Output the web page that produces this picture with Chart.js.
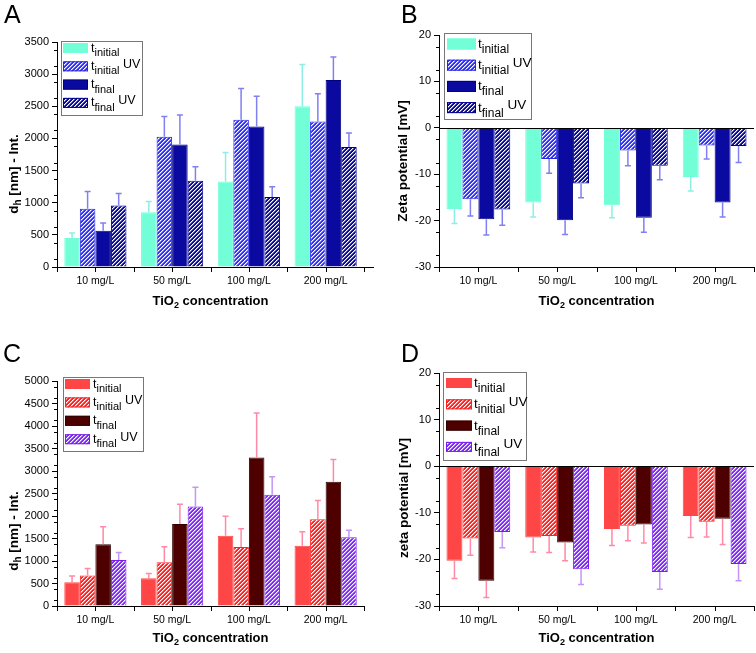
<!DOCTYPE html>
<html>
<head>
<meta charset="utf-8">
<script src="https://cdn.jsdelivr.net/npm/chart.js@4.4.0/dist/chart.umd.min.js"></script>
<style>
body { margin: 0; background: #fff; }
#wrap { position: relative; width: 756px; height: 653px; overflow: hidden; }
canvas { position: absolute; }
</style>
</head>
<body>
<div id="wrap">
  <canvas id="chartA" width="378" height="320" style="left:0;top:0"></canvas>
  <canvas id="chartB" width="378" height="320" style="left:378px;top:0"></canvas>
  <canvas id="chartC" width="378" height="333" style="left:0;top:320px"></canvas>
  <canvas id="chartD" width="378" height="333" style="left:378px;top:320px"></canvas>
</div>
<script>
// categories and legend text
const concentrations = ['10 mg/L', '50 mg/L', '100 mg/L', '200 mg/L'];
const legendSubs = ['initial', 'initial', 'final', 'final'];
const legendUV = ['', ' UV', '', ' UV'];

// y axis ranges [min, max, step]
const rangeA = [0, 3500, 500];
const rangeB = [-30, 20, 10];
const rangeC = [0, 5000, 500];
const rangeD = [-30, 20, 10];

// A: d_h [nm]
const dhA_initial = [450, 850, 1330, 2500];
const dhA_initialErr = [80, 170, 450, 650];
const dhA_initialUV = [905, 2025, 2290, 2265];
const dhA_initialUVErr = [270, 315, 485, 430];
const dhA_final = [565, 1905, 2185, 2910];
const dhA_finalErr = [120, 460, 470, 355];
const dhA_finalUV = [955, 1340, 1090, 1865];
const dhA_finalUVErr = [190, 220, 160, 220];

// B: zeta potential [mV]
const zetaB_initial = [-17.5, -16.1, -16.7, -10.6];
const zetaB_initialErr = [3.1, 3.1, 2.7, 3.0];
const zetaB_initialUV = [-15.4, -6.7, -4.9, -3.8];
const zetaB_initialUVErr = [3.6, 3.1, 3.3, 2.9];
const zetaB_final = [-19.7, -19.9, -19.4, -16.1];
const zetaB_finalErr = [3.4, 3.1, 3.1, 3.1];
const zetaB_finalUV = [-17.6, -12.0, -8.2, -3.9];
const zetaB_finalUVErr = [3.4, 3.1, 3.0, 3.6];

// C: d_h [nm]
const dhC_initial = [530, 615, 1560, 1340];
const dhC_initialErr = [135, 110, 435, 310];
const dhC_initialUV = [680, 975, 1310, 1930];
const dhC_initialUVErr = [155, 340, 405, 415];
const dhC_final = [1375, 1825, 3300, 2760];
const dhC_finalErr = [385, 435, 990, 495];
const dhC_finalUV = [1020, 2210, 2470, 1530];
const dhC_finalUVErr = [170, 430, 400, 155];

// D: zeta potential [mV]
const zetaD_initial = [-20.3, -15.3, -13.5, -10.7];
const zetaD_initialErr = [3.8, 3.1, 3.5, 4.6];
const zetaD_initialUV = [-15.5, -15.0, -12.8, -11.9];
const zetaD_initialUVErr = [3.6, 3.5, 3.2, 3.3];
const zetaD_final = [-24.6, -16.4, -12.5, -11.3];
const zetaD_finalErr = [3.6, 3.9, 4.0, 5.5];
const zetaD_finalUV = [-14.1, -22.1, -22.7, -21.0];
const zetaD_finalUVErr = [3.4, 3.3, 3.7, 3.6];

const FONT = '"Liberation Sans", Arial, sans-serif';
Chart.defaults.font.family = FONT;
Chart.defaults.color = '#000';

// diagonal white stripes on a base colour
function makeHatch(base) {
    const c = document.createElement('canvas');
    c.width = 4; c.height = 4;
    const g = c.getContext('2d');
    g.fillStyle = base;
    g.fillRect(0, 0, 4, 4);
    for (let x = 0; x < 4; x++) {
        for (let y = 0; y < 4; y++) {
            const k = (x + y) % 4;
            if (k === 0) { g.fillStyle = '#fff'; g.fillRect(x, y, 1, 1); }
            if (k === 1) { g.fillStyle = 'rgba(255,255,255,0.45)'; g.fillRect(x, y, 1, 1); }
        }
    }
    return g.createPattern(c, 'repeat');
}

function richText(ctx, parts, x, y, align) {
    let w = 0;
    parts.forEach(p => { ctx.font = p[1]; w += ctx.measureText(p[0]).width; });
    let cx = align === 'center' ? x - w / 2 : x;
    ctx.textAlign = 'left';
    ctx.textBaseline = 'alphabetic';
    parts.forEach(p => {
        ctx.font = p[1];
        ctx.fillText(p[0], cx, y + p[2]);
        cx += ctx.measureText(p[0]).width;
    });
}

// error bars, only on the outward side (Origin style)
const errorBars = {
    id: 'errorBars',
    afterDatasetsDraw(chart) {
        const ctx = chart.ctx, y = chart.scales.y;
        chart.data.datasets.forEach((ds, di) => {
            chart.getDatasetMeta(di).data.forEach((bar, i) => {
                const v = ds.data[i], e = ds.errors[i];
                const tip = y.getPixelForValue(v < 0 ? v - e : v + e);
                ctx.save();
                ctx.strokeStyle = ds.errColor;
                ctx.lineWidth = 1.5;
                ctx.beginPath();
                ctx.moveTo(bar.x, bar.y);
                ctx.lineTo(bar.x, tip);
                ctx.moveTo(bar.x - 3, tip);
                ctx.lineTo(bar.x + 3, tip);
                ctx.stroke();
                ctx.restore();
            });
        });
    }
};

// axes extras, legend, titles, panel letter
const decor = {
    id: 'decor',
    afterDraw(chart, args, o) {
        const ctx = chart.ctx, a = chart.chartArea, y = chart.scales.y;
        ctx.save();
        ctx.strokeStyle = '#000';
        ctx.lineWidth = 1;

        // zero line
        if (y.min < 0) {
            const z = Math.round(y.getPixelForValue(0)) + 0.5;
            ctx.beginPath(); ctx.moveTo(a.left, z); ctx.lineTo(a.right, z); ctx.stroke();
        }
        // bottom axis extension
        if (o.extend) {
            const b = Math.round(a.bottom) + 0.5;
            ctx.beginPath(); ctx.moveTo(a.right, b); ctx.lineTo(a.right + o.extend, b); ctx.stroke();
        }
        // minor y ticks
        const step = o.step;
        ctx.beginPath();
        for (let v = y.min + step / 2; v < y.max; v += step) {
            const p = Math.round(y.getPixelForValue(v)) + 0.5;
            ctx.moveTo(a.left - 3, p); ctx.lineTo(a.left, p);
        }
        ctx.stroke();
        // x ticks at centres and boundaries
        const w = (a.right - a.left) / 8;
        ctx.beginPath();
        for (let k = 0; k <= 8; k++) {
            const px = Math.round(a.left + k * w) + 0.5;
            ctx.moveTo(px, a.bottom); ctx.lineTo(px, a.bottom + 5);
        }
        ctx.stroke();

        // panel letter
        ctx.fillStyle = '#000';
        ctx.font = '25px ' + FONT;
        ctx.textAlign = 'left';
        ctx.textBaseline = 'alphabetic';
        ctx.fillText(o.letter, o.letterX, o.letterY);

        // x title
        richText(ctx, [['TiO', 'bold 13px ' + FONT, 0], ['2', 'bold 9px ' + FONT, 3],
            [' concentration', 'bold 13px ' + FONT, 0]], (a.left + a.right) / 2, o.xTitleY, 'center');

        // y title
        ctx.save();
        ctx.translate(o.yTitleX, o.yTitleY);
        ctx.rotate(-Math.PI / 2);
        richText(ctx, o.yTitle, 0, 5, 'center');
        ctx.restore();

        // legend
        const L = o.legend;
        ctx.fillStyle = '#fff';
        ctx.fillRect(L.x, L.y, L.w, L.h);
        ctx.strokeStyle = '#777';
        ctx.strokeRect(L.x + 0.5, L.y + 0.5, L.w, L.h);
        chart.data.datasets.forEach((ds, i) => {
            const cy = L.row0 + i * L.dy;
            ctx.fillStyle = ds.backgroundColor;
            ctx.fillRect(L.swX, cy - L.swH / 2, L.swW, L.swH);
            ctx.strokeStyle = ds.borderColor;
            ctx.strokeRect(L.swX + 0.5, cy - L.swH / 2 + 0.5, L.swW - 1, L.swH - 1);
            ctx.fillStyle = '#000';
            richText(ctx, [['t', L.size + 'px ' + FONT, L.tOff],
                [legendSubs[i], L.sub + 'px ' + FONT, L.subOff],
                [legendUV[i], L.size + 'px ' + FONT, L.uvOff]], L.textX, cy, 'left');
        });
        ctx.restore();
    }
};

function buildPanel(id, cfg) {
    const canvas = document.getElementById(id);
    const ctx = canvas.getContext('2d');
    const ar = cfg.area;
    return new Chart(ctx, {
        type: 'bar',
        data: {
            labels: concentrations,
            datasets: cfg.series.map(s => ({
                data: s[0],
                errors: s[1],
                backgroundColor: s[2],
                borderColor: s[3],
                errColor: s[4],
                borderWidth: 1,
                categoryPercentage: 0.81,
                barPercentage: 1
            }))
        },
        options: {
            responsive: false,
            animation: false,
            devicePixelRatio: 1,
            layout: { padding: { left: 0, top: ar.top, right: canvas.width - ar.right, bottom: 0 } },
            plugins: {
                legend: { display: false },
                tooltip: { enabled: false },
                decor: cfg.decor
            },
            scales: {
                x: {
                    offset: true,
                    grid: { display: false, drawTicks: false },
                    border: { display: true, color: '#000', width: 1 },
                    ticks: { color: '#000', font: { size: 10.5 }, padding: 8, maxRotation: 0, autoSkip: false },
                    afterFit(s) { s.height = canvas.height - ar.bottom; }
                },
                y: {
                    min: cfg.range[0],
                    max: cfg.range[1],
                    ticks: {
                        stepSize: cfg.range[2], color: '#000', font: { size: 11 }, padding: 3,
                        callback: v => String(v)
                    },
                    grid: { drawOnChartArea: false, drawTicks: true, tickLength: 5, color: '#000' },
                    border: { display: true, color: '#000', width: 1 },
                    afterFit(s) { s.width = ar.left; }
                }
            }
        },
        plugins: [errorBars, decor]
    });
}

function dhTitle() {
    return [['d', 'bold 13.5px ' + FONT, 0], ['h', 'bold 10px ' + FONT, 3], [' [nm] - Int.', 'bold 13.5px ' + FONT, 0]];
}

// colours
const aqua = '#72ffd8', blueHatch = makeHatch('#3030ff'), navy = '#0a0aa0', navyHatch = makeHatch('#0a0a9c');
const blueErr = '#8080f2', aquaErr = '#8eeee6';
const red = '#ff4646', redHatch = makeHatch('#ff2424'), maroon = '#4e0000', purpleHatch = makeHatch('#8428ff');
const pinkErr = '#ff8aa8', purpleErr = '#c596f5';

const smallLegend = { size: 12.5, sub: 11, tOff: 3.5, subOff: 8, uvOff: 1.5 };
const bigLegend = { size: 13.5, sub: 12, tOff: 4, subOff: 9, uvOff: 1.5 };

buildPanel('chartA', {
    range: rangeA,
    area: { left: 57, right: 364, top: 42, bottom: 267 },
    series: [
        [dhA_initial, dhA_initialErr, aqua, aqua, aquaErr],
        [dhA_initialUV, dhA_initialUVErr, blueHatch, '#2828e8', blueErr],
        [dhA_final, dhA_finalErr, navy, '#000080', blueErr],
        [dhA_finalUV, dhA_finalUVErr, navyHatch, '#000090', blueErr]
    ],
    decor: {
        letter: 'A', letterX: 4, letterY: 23, step: rangeA[2] / 2, extend: 10,
        xTitleY: 305, yTitleX: 13, yTitleY: 174, yTitle: dhTitle(),
        legend: Object.assign({ x: 61, y: 41, w: 81, h: 74, row0: 48, dy: 18.3, swX: 63, swW: 25, swH: 10, textX: 91 }, smallLegend)
    }
});

buildPanel('chartB', {
    range: rangeB,
    area: { left: 61, right: 376, top: 35, bottom: 267 },
    series: [
        [zetaB_initial, zetaB_initialErr, aqua, aqua, aquaErr],
        [zetaB_initialUV, zetaB_initialUVErr, blueHatch, '#2828e8', blueErr],
        [zetaB_final, zetaB_finalErr, navy, '#000080', blueErr],
        [zetaB_finalUV, zetaB_finalUVErr, navyHatch, '#000090', blueErr]
    ],
    decor: {
        letter: 'B', letterX: 23, letterY: 23, step: rangeB[2] / 2, extend: 0,
        xTitleY: 305, yTitleX: 24, yTitleY: 161,
        yTitle: [['Zeta potential [mV]', 'bold 13.5px ' + FONT, 0]],
        legend: Object.assign({ x: 66, y: 33, w: 87, h: 86, row0: 44, dy: 21.2, swX: 69, swW: 29, swH: 11, textX: 100 }, bigLegend)
    }
});

buildPanel('chartC', {
    range: rangeC,
    area: { left: 57, right: 364, top: 61, bottom: 286 },
    series: [
        [dhC_initial, dhC_initialErr, red, red, pinkErr],
        [dhC_initialUV, dhC_initialUVErr, redHatch, '#ff2020', pinkErr],
        [dhC_final, dhC_finalErr, maroon, '#300000', pinkErr],
        [dhC_finalUV, dhC_finalUVErr, purpleHatch, '#7a1cf0', purpleErr]
    ],
    decor: {
        letter: 'C', letterX: 3, letterY: 42, step: rangeC[2] / 2, extend: 0,
        xTitleY: 322, yTitleX: 13, yTitleY: 211, yTitle: dhTitle(),
        legend: Object.assign({ x: 63, y: 57, w: 80, h: 74, row0: 64, dy: 18.4, swX: 65, swW: 25, swH: 10, textX: 93 }, smallLegend)
    }
});

buildPanel('chartD', {
    range: rangeD,
    area: { left: 61, right: 376, top: 53, bottom: 286 },
    series: [
        [zetaD_initial, zetaD_initialErr, red, red, pinkErr],
        [zetaD_initialUV, zetaD_initialUVErr, redHatch, '#ff2020', pinkErr],
        [zetaD_final, zetaD_finalErr, maroon, '#300000', pinkErr],
        [zetaD_finalUV, zetaD_finalUVErr, purpleHatch, '#7a1cf0', purpleErr]
    ],
    decor: {
        letter: 'D', letterX: 23, letterY: 42, step: rangeD[2] / 2, extend: 0,
        xTitleY: 322, yTitleX: 25, yTitleY: 178,
        yTitle: [['zeta potential [mV]', 'bold 13.5px ' + FONT, 0]],
        legend: Object.assign({ x: 65, y: 52, w: 83, h: 88, row0: 63, dy: 21.3, swX: 68, swW: 26, swH: 10, textX: 96 }, bigLegend)
    }
});
</script>
</body>
</html>
